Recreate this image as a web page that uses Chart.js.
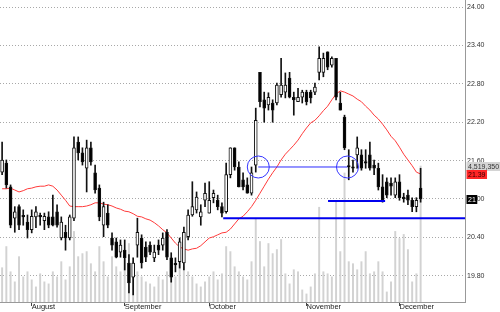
<!DOCTYPE html>
<html><head><meta charset="utf-8">
<script src="https://cdn.jsdelivr.net/npm/chart.js@4.4.1/dist/chart.umd.min.js"></script>
<style>html,body{margin:0;padding:0;background:#fff}#w{width:500px;height:312px;position:relative}</style>
</head><body><div id="w"><canvas id="c"></canvas></div>
<script>
const opens  = [21.42,21.56,21.19,20.70,20.88,20.73,20.64,20.52,20.72,20.73,20.66,20.72,20.72,20.80,20.39,20.48,20.39,20.70,21.89,21.72,
                21.48,21.80,21.41,21.17,20.59,20.78,20.39,20.33,20.17,20.20,20.00,19.78,20.28,20.39,20.25,20.28,20.08,20.28,20.28,20.48,
                20.08,19.98,20.02,20.00,20.41,20.75,20.83,20.72,20.98,20.78,21.02,20.98,20.88,20.80,21.38,21.80,21.50,21.30,21.22,21.09,
                21.53,22.98,22.55,22.47,22.50,22.50,22.63,22.67,22.89,22.59,22.52,22.59,22.67,22.67,22.67,22.98,22.98,23.30,23.09,23.20,
                22.50,22.28,21.52,21.50,21.69,21.69,21.58,21.69,21.53,21.48,21.19,21.27,21.25,21.06,21.27,21.03,21.06,20.98,20.88,21.17];
const highs  = [21.89,21.61,21.22,20.88,20.91,20.83,20.75,20.83,20.88,20.78,20.78,20.80,21.06,20.91,20.72,20.59,20.75,21.97,21.97,21.80,
                21.92,21.89,21.53,21.22,20.95,20.91,20.47,20.39,20.36,20.36,20.13,20.08,20.70,20.44,20.33,20.33,20.28,20.36,20.47,20.52,
                20.16,20.08,20.39,20.56,20.83,21.27,21.11,20.91,21.25,21.27,21.14,21.06,20.94,21.56,21.80,21.80,21.58,21.41,21.33,21.50,
                22.42,22.98,22.67,22.66,22.55,22.81,23.20,22.97,22.98,22.67,22.73,22.70,22.70,22.70,22.81,23.38,23.28,23.30,23.22,23.20,
                22.67,22.31,21.77,21.61,21.97,21.77,21.77,21.89,21.61,21.56,21.38,21.33,21.33,21.33,21.38,21.09,21.14,21.02,21.02,21.48];
const lows   = [21.38,21.17,20.55,20.48,20.52,20.59,20.39,20.47,20.55,20.59,20.52,20.55,20.58,20.56,20.36,20.20,20.36,20.66,21.61,21.53,
                21.11,21.53,21.09,20.66,20.41,20.55,20.20,20.08,20.09,19.89,19.53,19.50,20.09,19.92,20.02,20.13,20.02,20.13,20.20,20.05,
                19.70,19.86,19.92,19.89,20.36,20.73,20.78,20.59,20.88,20.78,20.94,20.83,20.72,20.78,21.33,21.45,21.19,21.14,21.09,21.06,
                21.42,22.44,22.20,22.39,22.20,22.47,22.59,22.58,22.58,22.31,22.52,22.50,22.47,22.50,22.63,22.86,22.91,23.02,23.06,22.55,
                22.39,21.77,21.30,21.42,21.48,21.45,21.48,21.45,21.38,21.14,20.95,21.02,21.06,21.02,20.98,20.95,20.91,20.80,20.80,20.95];
const closes = [21.61,21.22,20.59,20.80,20.59,20.72,20.52,20.73,20.80,20.72,20.73,20.59,20.59,20.59,20.64,20.39,20.72,21.80,21.72,21.58,
                21.80,21.58,21.14,20.72,20.88,20.59,20.28,20.09,20.28,20.08,19.69,20.00,20.48,20.00,20.09,20.17,20.17,20.20,20.39,20.09,
                19.78,19.97,20.33,20.48,20.75,20.88,21.03,20.80,21.09,20.98,21.09,20.88,20.78,21.38,21.80,21.50,21.19,21.19,21.09,21.41,
                22.23,22.52,22.42,22.59,22.39,22.78,22.78,22.78,22.59,22.55,22.59,22.67,22.52,22.58,22.75,23.20,23.20,23.06,23.20,22.59,
                22.39,21.80,21.50,21.48,21.80,21.48,21.56,21.48,21.48,21.19,20.98,21.06,21.20,21.27,21.02,21.00,20.98,20.88,20.98,21.00];
const volumes = [1139000,1842000,1005000,670000,1507000,837000,1005000,737000,502000,938000,670000,603000,1005000,837000,1340000,737000,1172000,2345000,1507000,1608000,
                 1675000,1273000,1005000,1842000,1340000,837000,1507000,1172000,1005000,1407000,1943000,1340000,1005000,837000,670000,603000,502000,837000,737000,1005000,
                 1407000,837000,1340000,1172000,1005000,837000,603000,502000,670000,837000,1005000,737000,938000,1842000,1675000,1172000,1005000,837000,737000,1340000,
                 2747000,2010000,1172000,1943000,1608000,1742000,2077000,938000,603000,1072000,1005000,402000,268000,502000,938000,3149000,1005000,938000,837000,3350000,
                 1675000,4288000,1340000,1273000,1072000,1340000,1675000,938000,1005000,1340000,1005000,335000,670000,2345000,2110000,2245000,1742000,670000,938000,4519350];
const movingAvg = [21.16,21.16,21.17,21.14,21.11,21.13,21.16,21.17,21.19,21.20,21.20,21.22,21.20,21.14,21.06,20.98,20.89,20.88,20.88,20.88,
                   20.89,20.91,20.94,20.94,20.92,20.91,20.89,20.86,20.84,20.81,20.80,20.77,20.73,20.72,20.69,20.67,20.63,20.58,20.52,20.47,
                   20.39,20.31,20.25,20.22,20.20,20.22,20.23,20.27,20.33,20.39,20.41,20.44,20.47,20.48,20.53,20.61,20.69,20.73,20.80,20.88,
                   20.98,21.09,21.20,21.31,21.41,21.50,21.61,21.70,21.77,21.84,21.92,22.02,22.11,22.19,22.23,22.30,22.38,22.45,22.55,22.64,
                   22.69,22.67,22.64,22.61,22.56,22.52,22.45,22.39,22.31,22.25,22.17,22.08,21.98,21.91,21.81,21.70,21.61,21.52,21.42,21.39];
const yTicks = [19.80,20.40,21.00,21.60,22.20,22.80,23.40,24.00];
const monthNames = ['August','September','October','November','December'];
const monthStarts = [7,29,49,72,94];
const emptySlots = 10;
const circleMarks = [{x:60.6,y:21.50},{x:81.7,y:21.50}];
const thinLine = [{x:60.6,y:21.50},{x:81.7,y:21.50}];
const shortLine = [{x:77.1,y:20.97},{x:90.6,y:20.97}];
const supportLine = [{x:52.3,y:20.70},{x:109.5,y:20.70}];

const nSlots = closes.length + emptySlots;
const labels = Array.from({length:nSlots}, (_, i) => String(i));
const last = closes.length - 1;
const FONT = '"Liberation Sans", Arial, sans-serif';

const priceMarkers = {
  id: 'priceMarkers',
  afterDraw(chart) {
    const {ctx, scales:{y, yv}} = chart;
    const left = y.left + 1.5;
    const items = [
      {p: yv.getPixelForValue(volumes[last]), t: volumes[last].toLocaleString('en-US'), bg:'#d4d4d4', fg:'#333'},
      {p: y.getPixelForValue(movingAvg[last]), t: movingAvg[last].toFixed(2), bg:'#ff2626', fg:'#300'},
      {p: y.getPixelForValue(closes[last]), t: String(closes[last]), bg:'#000', fg:'#fff'}
    ];
    ctx.save();
    ctx.font = '7px ' + FONT;
    ctx.textBaseline = 'middle';
    for (const it of items) {
      const w = ctx.measureText(it.t).width + 3;
      const top = Math.round(it.p) - 4;
      ctx.fillStyle = it.bg;
      ctx.fillRect(left, top, w, 9);
      ctx.fillStyle = it.fg;
      ctx.fillText(it.t, left + 1.5, top + 4.8);
    }
    ctx.restore();
  }
};

new Chart(document.getElementById('c'), {
  type: 'bar',
  data: {
    labels,
    datasets: [
      {type:'bar', data: volumes, yAxisID:'yv', backgroundColor:'#d2d2d2', barThickness:1.3, grouped:false, order:10},
      {type:'line', data: movingAvg, yAxisID:'y', borderColor:'#ff3a3a', borderWidth:1, pointRadius:0, tension:0, order:5},
      {type:'bar', data: lows.map((l,i)=>[l, highs[i]]), yAxisID:'y', backgroundColor:'#111', barThickness:1, grouped:false, order:3},
      {type:'bar', data: opens.map((o,i)=>[o, closes[i]]), yAxisID:'y',
        backgroundColor: opens.map((o,i)=> closes[i] >= o ? '#ffffff' : '#000000'),
        borderColor:'#111', borderWidth:1, borderSkipped:false, barThickness:3, minBarLength:1.5, grouped:false, order:2},
      {type:'line', data: thinLine, xAxisID:'xl', yAxisID:'y', borderColor:'#2b2bff', borderWidth:1, pointRadius:0, order:1},
      {type:'line', data: shortLine, xAxisID:'xl', yAxisID:'y', borderColor:'#0000ee', borderWidth:2, pointRadius:0, order:1},
      {type:'line', data: supportLine, xAxisID:'xl', yAxisID:'y', borderColor:'#0000ee', borderWidth:2, pointRadius:0, order:1},
      {type:'line', data: circleMarks, xAxisID:'xl', yAxisID:'y', showLine:false, pointRadius:11, pointBorderWidth:1,
        pointBorderColor:'#3535ff', pointBackgroundColor:'rgba(0,0,0,0)', order:0}
    ]
  },
  options: {
    responsive:true, maintainAspectRatio:false, animation:false, devicePixelRatio:1, events:[],
    layout:{padding:0, autoPadding:false},
    plugins:{legend:{display:false}, tooltip:{enabled:false}},
    scales:{
      x:{type:'category', offset:true,
        grid:{display:true, drawOnChartArea:false, drawTicks:true, tickLength:4, offset:false,
          tickColor: c => monthStarts.includes(c.index) ? '#444' : 'rgba(0,0,0,0)',
          color: c => monthStarts.includes(c.index) ? '#444' : 'rgba(0,0,0,0)'},
        border:{display:true, color:'#999', width:1},
        ticks:{autoSkip:false, maxRotation:0, minRotation:0, align:'start', padding:-4, color:'#222',
          font:{family:FONT, size:7.5},
          callback:(v,i)=>{const k = monthStarts.indexOf(i); return k >= 0 ? monthNames[k] : '';}},
        afterFit: s => {s.height = 10; s.paddingLeft = 0; s.paddingRight = 0;}
      },
      xl:{type:'linear', display:false, offset:false, grid:{offset:false}, min:-0.5, max:nSlots - 0.5},
      y:{position:'right', min:19.39, max:24.11,
        grid:{color:'#a8a8a8', drawTicks:false},
        border:{display:true, color:'#999', dash:[1,2]},
        ticks:{padding:2, color:'#333', font:{family:FONT, size:7}, callback: v => Number(v).toFixed(2)},
        afterBuildTicks: s => { s.ticks = yTicks.map(v => ({value:v})); },
        afterFit: s => {s.width = 35; s.paddingTop = 0; s.paddingBottom = 0;}
      },
      yv:{display:false, min:0, max:10035000}
    }
  },
  plugins:[priceMarkers]
});
</script></body></html>
